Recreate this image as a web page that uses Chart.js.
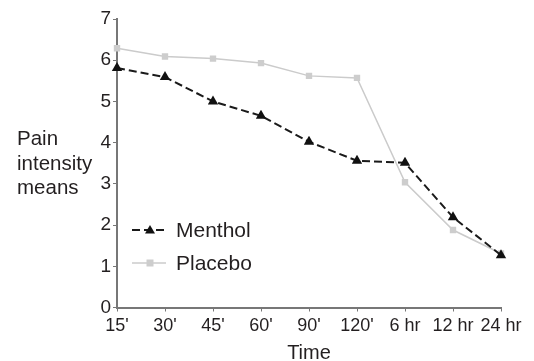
<!DOCTYPE html>
<html><head><meta charset="utf-8">
<script src="https://cdn.jsdelivr.net/npm/chart.js@4/dist/chart.umd.min.js"></script>
<style>html,body{margin:0;padding:0;background:#fff}#wrap{width:534px;height:361px}</style>
</head><body><div id="wrap"><canvas id="c" width="534" height="361"></canvas></div>
<script>
const categories = ["15'", "30'", "45'", "60'", "90'", "120'", "6 hr", "12 hr", "24 hr"];
const menthol = [5.81, 5.59, 5.0, 4.65, 4.02, 3.56, 3.51, 2.19, 1.27];
const placebo = [6.29, 6.09, 6.04, 5.93, 5.62, 5.57, 3.04, 1.88, 1.31];
const yTicks = [0, 1, 2, 3, 4, 5, 6, 7];
const yTitleLines = ["Pain", "intensity", "means"];
const xTitle = "Time";

const FONT = "'Liberation Sans', Arial, sans-serif";
const axisColor = '#777777';
const textColor = '#231f20';

const sidePlugin = {
  id: 'side',
  afterDraw(chart) {
    const ctx = chart.ctx;
    ctx.save();
    ctx.font = '20.5px ' + FONT;
    ctx.fillStyle = textColor;
    ctx.textBaseline = 'alphabetic';
    ctx.textAlign = 'left';
    const base = 145;
    yTitleLines.forEach((t, i) => ctx.fillText(t, 17, base + i * 24.5));
    // in-plot legend
    const items = [
      {ds: chart.data.datasets[0], y: 230},
      {ds: chart.data.datasets[1], y: 263}
    ];
    items.forEach(it => {
      const ds = it.ds;
      ctx.strokeStyle = ds.borderColor;
      ctx.lineWidth = ds.borderWidth;
      ctx.setLineDash(ds.borderDash || []);
      ctx.beginPath();
      ctx.moveTo(132, it.y);
      ctx.lineTo(166, it.y);
      ctx.stroke();
      ctx.setLineDash([]);
      ctx.fillStyle = ds.pointBackgroundColor;
      if (ds.pointStyle === 'triangle') {
        const r = 5;
        ctx.beginPath();
        ctx.moveTo(150, it.y - r);
        ctx.lineTo(150 + r, it.y + r * 0.7);
        ctx.lineTo(150 - r, it.y + r * 0.7);
        ctx.closePath();
        ctx.fill();
      } else {
        ctx.fillRect(146.5, it.y - 3.5, 7, 7);
      }
      ctx.fillStyle = textColor;
      ctx.font = '21px ' + FONT;
      ctx.textBaseline = 'middle';
      ctx.fillText(ds.label, 176, it.y + 1);
    });
    ctx.restore();
  }
};

new Chart(document.getElementById('c'), {
  type: 'line',
  data: {
    labels: categories,
    datasets: [
      {
        label: 'Menthol', data: menthol,
        borderColor: '#1a1a1a', borderWidth: 2, borderDash: [8, 4],
        pointStyle: 'triangle', pointRadius: 6, pointBackgroundColor: '#111', pointBorderColor: '#111', pointBorderWidth: 0,
        tension: 0, order: 1
      },
      {
        label: 'Placebo', data: placebo,
        borderColor: '#cbcbcb', borderWidth: 1.5,
        pointStyle: 'rect', pointRadius: 4.5, pointBackgroundColor: '#cdcdcd', pointBorderColor: '#cdcdcd', pointBorderWidth: 0,
        tension: 0, order: 2
      }
    ]
  },
  options: {
    responsive: false, animation: false,
    layout: { padding: { left: 87, right: 33, top: 19, bottom: 0 } },
    plugins: { legend: { display: false }, tooltip: { enabled: false } },
    scales: {
      x: {
        offset: false,
        afterFit(scale) { scale.height = 53.5; },
        grid: { display: true, drawOnChartArea: false, drawTicks: true, tickLength: 4, color: axisColor, lineWidth: 1 },
        border: { display: true, color: axisColor, width: 2 },
        ticks: { color: textColor, font: { family: FONT, size: 18 }, padding: 4, maxRotation: 0, autoSkip: false },
        title: { display: true, text: xTitle, color: textColor, font: { family: FONT, size: 20, lineHeight: 1 }, padding: { top: 0, bottom: -2 } }
      },
      y: {
        min: 0, max: 7,
        afterFit(scale) { scale.width = 30; },
        afterBuildTicks(scale) { scale.ticks = yTicks.map(v => ({ value: v })); },
        grid: { display: true, drawOnChartArea: false, drawTicks: true, tickLength: 4, color: axisColor, lineWidth: 1 },
        border: { display: true, color: axisColor, width: 2 },
        ticks: { color: textColor, font: { family: FONT, size: 19 }, padding: 2 }
      }
    }
  },
  plugins: [sidePlugin]
});
</script></body></html>
